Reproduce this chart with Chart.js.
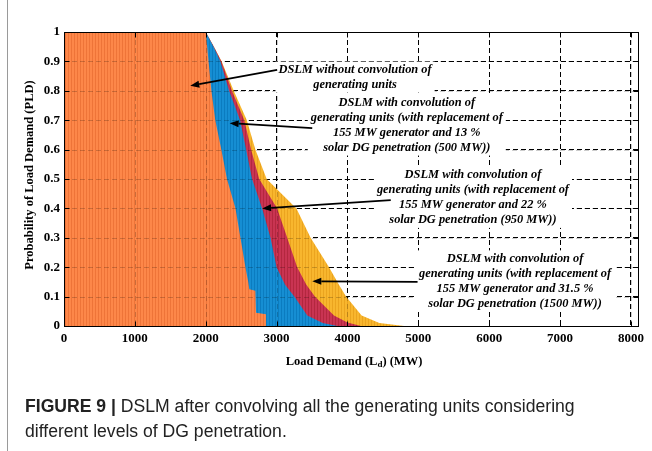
<!DOCTYPE html>
<html>
<head>
<meta charset="utf-8">
<script src="https://cdn.jsdelivr.net/npm/chart.js@4.4.1/dist/chart.umd.min.js"></script>
<style>
  body { margin: 0; background: #fff; }
  #wrap { position: relative; width: 652px; height: 451px; overflow: hidden; }
  #frame { position: absolute; left: 7px; top: 0; width: 1px; height: 451px; background: #9a9a9a; }
  #caption { position: absolute; left: 25px; top: 394px; width: 627px; font-family: "Liberation Sans", Arial, sans-serif; font-size: 17.6px; line-height: 25px; color: #222; white-space: nowrap; }
  #caption b { font-weight: bold; }
</style>
</head>
<body>
<div id="wrap">
  <canvas id="dslmChart" width="652" height="451"></canvas>
  <div id="frame"></div>
  <div id="caption"><b>FIGURE 9 |</b> DSLM after convolving all the generating units considering<br>different levels of DG penetration.</div>
</div>
<script>
// Load demand (MW) and probability, one pair of arrays per curve
const loadNoConv = [0, 2000, 2040, 2080, 2135, 2220, 2300, 2420, 2490, 2560, 2600, 2615, 2700, 2710, 2850, 2850];
const pldNoConv  = [1, 1, 0.9, 0.8, 0.7, 0.6, 0.5, 0.4, 0.3, 0.2, 0.15, 0.125, 0.12, 0.045, 0.04, 0];

const load13 = [0, 2000, 2110, 2207, 2330, 2485, 2570, 2654, 2796, 2914, 3000, 3120, 3250, 3433, 3650, 3860];
const pld13  = [1, 1, 0.95, 0.9, 0.8, 0.7, 0.6, 0.5, 0.4, 0.3, 0.2, 0.14, 0.1, 0.036, 0.01, 0];

const load22 = [0, 2000, 2115, 2222, 2370, 2545, 2640, 2755, 3008, 3150, 3291, 3420, 3540, 3810, 4000, 4190];
const pld22  = [1, 1, 0.95, 0.9, 0.8, 0.7, 0.6, 0.5, 0.4, 0.3, 0.2, 0.14, 0.1, 0.036, 0.012, 0];

const load31 = [0, 2000, 2115, 2225, 2395, 2580, 2700, 2860, 3280, 3480, 3740, 3880, 3980, 4200, 4450, 4800];
const pld31  = [1, 1, 0.95, 0.9, 0.8, 0.7, 0.6, 0.5, 0.4, 0.3, 0.2, 0.14, 0.1, 0.036, 0.01, 0];

// tick labels
const xTickValues = [0, 1000, 2000, 3000, 4000, 5000, 6000, 7000, 8000];
const yTickValues = [0, 0.1, 0.2, 0.3, 0.4, 0.5, 0.6, 0.7, 0.8, 0.9, 1];
const yTickLabels = ['0', '0.1', '0.2', '0.3', '0.4', '0.5', '0.6', '0.7', '0.8', '0.9', '1'];

const annotations = [
    { x: 4107, y: 0.872, lines: ['DSLM without convolution of', 'generating units'],
      tail: [3008, 0.871], head: [1782, 0.817] },
    { x: 4837, y: 0.760, lines: ['DSLM with convolution of', 'generating units (with replacement of', '155 MW generator and 13 %', 'solar DG penetration (500 MW))'],
      tail: [3503, 0.673], head: [2338, 0.690] },
    { x: 5771, y: 0.514, lines: ['DSLM with convolution of', 'generating units (with replacement of', '155 MW generator and 22 %', 'solar DG penetration (950 MW))'],
      tail: [4611, 0.428], head: [2796, 0.400] },
    { x: 6365, y: 0.230, lines: ['DSLM with convolution of', 'generating units (with replacement of', '155 MW generator and 31.5 %', 'solar DG penetration (1500 MW))'],
      tail: [4989, 0.150], head: [3504, 0.152] }
];

const canvas = document.getElementById('dslmChart');
const ctx = canvas.getContext('2d');

// bar-like vertical striping of the filled areas
function stripes(base, dark) {
    const c = document.createElement('canvas');
    c.width = 3; c.height = 1;
    const g = c.getContext('2d');
    g.fillStyle = base; g.fillRect(0, 0, 3, 1);
    g.fillStyle = dark; g.fillRect(2, 0, 1, 1);
    return ctx.createPattern(c, 'repeat');
}

function toPoints(xs, ys) {
    return xs.map((x, i) => ({ x: x, y: ys[i] }));
}

function curve(label, xs, ys, base, dark) {
    return {
        label: label,
        data: toPoints(xs, ys),
        backgroundColor: stripes(base, dark),
        borderColor: base,
        borderWidth: 0,
        pointRadius: 0,
        fill: 'origin',
        tension: 0
    };
}

function arrow(c, x1, y1, x2, y2) {
    const ang = Math.atan2(y2 - y1, x2 - x1);
    const len = 9, half = 3.5;
    const bx = x2 - len * Math.cos(ang), by = y2 - len * Math.sin(ang);
    c.strokeStyle = '#000';
    c.lineWidth = 1.8;
    c.setLineDash([]);
    c.beginPath(); c.moveTo(x1, y1); c.lineTo(bx, by); c.stroke();
    c.fillStyle = '#000';
    c.beginPath();
    c.moveTo(x2, y2);
    c.lineTo(bx + half * Math.sin(ang), by - half * Math.cos(ang));
    c.lineTo(bx - half * Math.sin(ang), by + half * Math.cos(ang));
    c.closePath(); c.fill();
}

const serif = '"Liberation Serif", "Times New Roman", serif';

const overlay = {
    id: 'overlay',
    afterDatasetsDraw(chart) {
        const c = chart.ctx, a = chart.chartArea, xs = chart.scales.x, ys = chart.scales.y;
        c.save();
        c.beginPath(); c.rect(a.left, a.top, a.right - a.left, a.bottom - a.top); c.clip();
        // grid showing faintly through the fills
        c.setLineDash([5, 3]);
        c.strokeStyle = 'rgba(0,0,0,0.2)';
        c.lineWidth = 1;
        xs.ticks.forEach(t => {
            const px = Math.round(xs.getPixelForValue(t.value)) + 0.5;
            c.beginPath(); c.moveTo(px, a.top); c.lineTo(px, a.bottom); c.stroke();
        });
        ys.ticks.forEach(t => {
            const py = Math.round(ys.getPixelForValue(t.value)) + 0.5;
            c.beginPath(); c.moveTo(a.left, py); c.lineTo(a.right, py); c.stroke();
        });
        c.setLineDash([]);
        // text blocks with white boxes
        c.font = 'italic bold 12.4px ' + serif;
        c.textAlign = 'center';
        c.textBaseline = 'middle';
        const gap = 15;
        annotations.forEach(n => {
            const cx = xs.getPixelForValue(n.x), cy = ys.getPixelForValue(n.y);
            const w = Math.max(...n.lines.map(s => c.measureText(s).width));
            c.fillStyle = '#fff';
            c.fillRect(cx - w / 2 - 3, cy - 8, w + 6, gap * (n.lines.length - 1) + 16);
            c.fillStyle = '#000';
            n.lines.forEach((s, i) => c.fillText(s, cx, cy + i * gap));
        });
        annotations.forEach(n => {
            arrow(c, xs.getPixelForValue(n.tail[0]), ys.getPixelForValue(n.tail[1]),
                     xs.getPixelForValue(n.head[0]), ys.getPixelForValue(n.head[1]));
        });
        c.restore();
    },
    afterDraw(chart) {
        const c = chart.ctx, a = chart.chartArea, xs = chart.scales.x, ys = chart.scales.y;
        c.save();
        c.strokeStyle = '#000';
        c.lineWidth = 1;
        c.setLineDash([]);
        const l = Math.round(a.left) + 0.5, r = Math.round(a.right) + 0.5;
        const t = Math.round(a.top) + 0.5, b = Math.round(a.bottom) + 0.5;
        c.strokeRect(l, t, r - l, b - t);
        // inward tick marks on all four sides
        xs.ticks.forEach(tk => {
            const px = Math.round(xs.getPixelForValue(tk.value)) + 0.5;
            c.beginPath(); c.moveTo(px, b); c.lineTo(px, b - 5); c.moveTo(px, t); c.lineTo(px, t + 5); c.stroke();
        });
        ys.ticks.forEach(tk => {
            const py = Math.round(ys.getPixelForValue(tk.value)) + 0.5;
            c.beginPath(); c.moveTo(l, py); c.lineTo(l + 5, py); c.moveTo(r, py); c.lineTo(r - 5, py); c.stroke();
        });
        // axis titles
        c.fillStyle = '#000';
        c.textBaseline = 'middle';
        const big = 'bold 12.5px ' + serif, small = 'bold 9px ' + serif;
        const p1 = 'Load Demand (L', p3 = ') (MW)';
        c.font = big;
        const w1 = c.measureText(p1).width, w3 = c.measureText(p3).width;
        c.font = small;
        const w2 = c.measureText('d').width;
        const x0 = (a.left + a.right) / 2 + 3 - (w1 + w2 + w3) / 2;
        const yT = a.bottom + 36;
        c.textAlign = 'left';
        c.font = big;
        c.fillText(p1, x0, yT);
        c.font = small;
        c.fillText('d', x0 + w1, yT + 3);
        c.font = big;
        c.fillText(p3, x0 + w1 + w2, yT);
        c.translate(30, (a.top + a.bottom) / 2 - 4);
        c.rotate(-Math.PI / 2);
        c.textAlign = 'center';
        c.fillText('Probability of Load Demand (PLD)', 0, 0);
        c.restore();
    }
};

const tickFont = { family: serif, weight: 'bold', size: 13 };

new Chart(ctx, {
    type: 'line',
    data: {
        datasets: [
            curve('DSLM without convolution', loadNoConv, pldNoConv, '#fd8749', '#ee7438'),
            curve('13 % solar DG (500 MW)', load13, pld13, '#168ed3', '#0b7cc0'),
            curve('22 % solar DG (950 MW)', load22, pld22, '#c93452', '#b4273f'),
            curve('31.5 % solar DG (1500 MW)', load31, pld31, '#f8b62e', '#eba41f')
        ]
    },
    options: {
        responsive: false,
        animation: false,
        layout: { padding: { left: 0, right: 14, top: 32, bottom: 85 } },
        plugins: { legend: { display: false }, tooltip: { enabled: false } },
        scales: {
            x: {
                type: 'linear',
                min: 0,
                max: 8100,
                afterBuildTicks: function(s) { s.ticks = xTickValues.map(v => ({ value: v })); },
                ticks: { font: tickFont, color: '#000', padding: 5, maxRotation: 0, autoSkip: false,
                         callback: function(v) { return String(v); } },
                grid: { color: '#000', lineWidth: 1, drawTicks: false },
                border: { display: true, color: '#000', dash: [5, 3] },
                afterFit: function(s) { s.height = 40; }
            },
            y: {
                type: 'linear',
                min: 0,
                max: 1,
                afterBuildTicks: function(s) { s.ticks = yTickValues.map(v => ({ value: v })); },
                ticks: { font: tickFont, color: '#000', padding: 4, autoSkip: false,
                         callback: function(v, i) { return yTickLabels[i]; } },
                grid: { color: '#000', lineWidth: 1, drawTicks: false },
                border: { display: true, color: '#000', dash: [5, 3] },
                afterFit: function(s) { s.width = 64; }
            }
        }
    },
    plugins: [overlay]
});
</script>
</body>
</html>
